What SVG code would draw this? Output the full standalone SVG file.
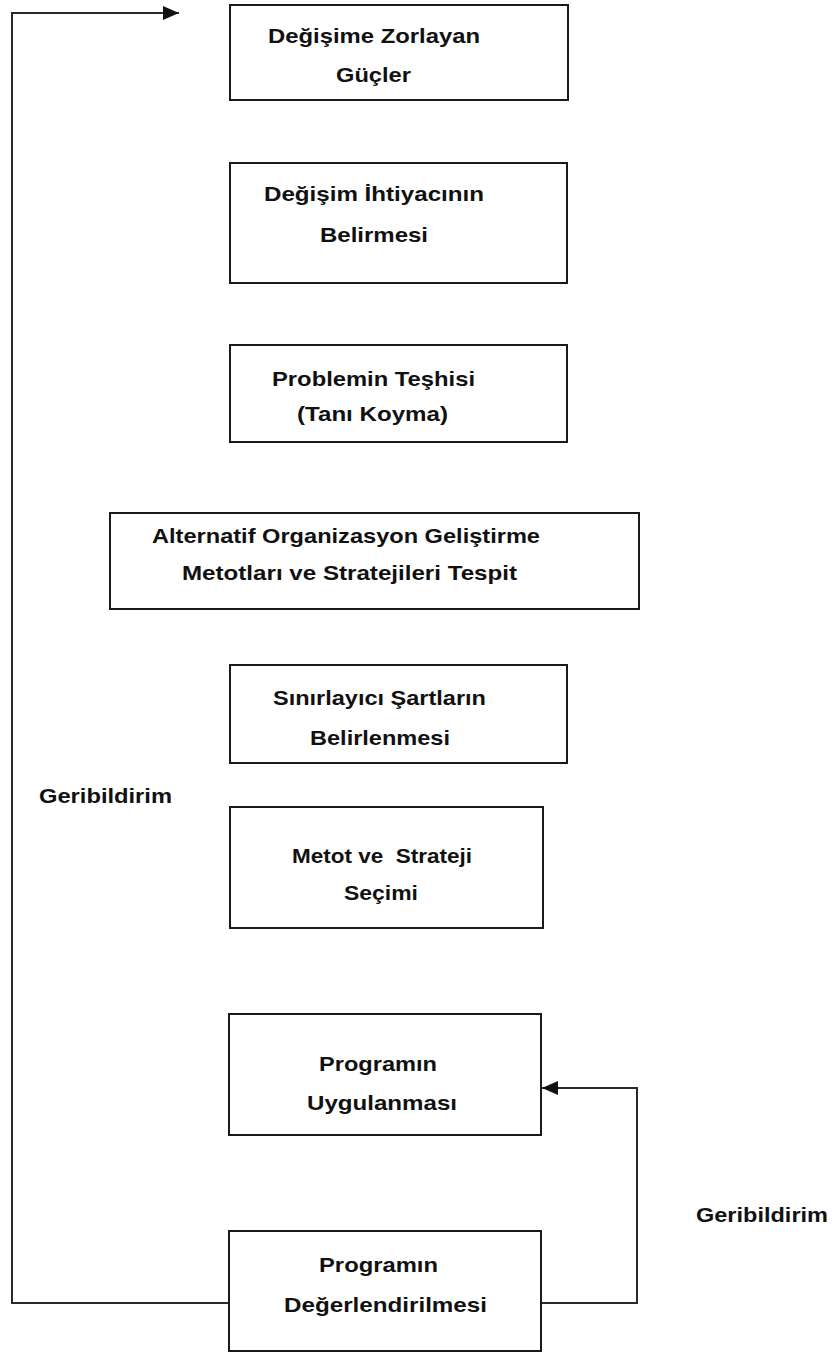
<svg xmlns="http://www.w3.org/2000/svg" width="835" height="1353" viewBox="0 0 835 1353">
  <style>
    .box { fill: #ffffff; stroke: #1a1a1a; stroke-width: 2; }
    .lbl { font-family: "Liberation Sans", Arial, sans-serif; font-size: 21px; font-weight: bold; fill: #111111; white-space: pre; }
    .wire { fill: none; stroke: #2a2a2a; stroke-width: 2; }
  </style>
  <defs>
    <marker id="head" viewBox="0 0 16 14" refX="16" refY="7" markerWidth="16" markerHeight="14" markerUnits="userSpaceOnUse" orient="auto">
      <path d="M0,0 L16,7 L0,14 Z" fill="#111111"/>
    </marker>
  </defs>

  <rect width="835" height="1353" fill="#ffffff"/>

  <!-- connectors -->
  <g id="connectors">
    <path class="wire" d="M229,1303 L12,1303 L12,13 L179,13" marker-end="url(#head)"/>
    <path class="wire" d="M541,1303 L637,1303 L637,1088 L542,1088" marker-end="url(#head)"/>
  </g>

  <g id="n1">
    <rect class="box" x="230" y="5" width="338" height="95"/>
    <text class="lbl" x="268" y="43" textLength="212" lengthAdjust="spacingAndGlyphs">Değişime Zorlayan</text>
    <text class="lbl" x="336" y="82" textLength="75" lengthAdjust="spacingAndGlyphs">Güçler</text>
  </g>

  <g id="n2">
    <rect class="box" x="230" y="163" width="337" height="120"/>
    <text class="lbl" x="264" y="201" textLength="220" lengthAdjust="spacingAndGlyphs">Değişim İhtiyacının</text>
    <text class="lbl" x="320" y="242" textLength="108" lengthAdjust="spacingAndGlyphs">Belirmesi</text>
  </g>

  <g id="n3">
    <rect class="box" x="230" y="345" width="337" height="97"/>
    <text class="lbl" x="272" y="386" textLength="203" lengthAdjust="spacingAndGlyphs">Problemin Teşhisi</text>
    <text class="lbl" x="297" y="421" textLength="151" lengthAdjust="spacingAndGlyphs">(Tanı Koyma)</text>
  </g>

  <g id="n4">
    <rect class="box" x="110" y="513" width="529" height="96"/>
    <text class="lbl" x="152" y="543" textLength="388" lengthAdjust="spacingAndGlyphs">Alternatif Organizasyon Geliştirme</text>
    <text class="lbl" x="182" y="580" textLength="335" lengthAdjust="spacingAndGlyphs">Metotları ve Stratejileri Tespit</text>
  </g>

  <g id="n5">
    <rect class="box" x="230" y="665" width="337" height="98"/>
    <text class="lbl" x="273" y="705" textLength="213" lengthAdjust="spacingAndGlyphs">Sınırlayıcı Şartların</text>
    <text class="lbl" x="310" y="745" textLength="140" lengthAdjust="spacingAndGlyphs">Belirlenmesi</text>
  </g>

  <g id="n6">
    <rect class="box" x="230" y="807" width="313" height="121"/>
    <text class="lbl" x="292" y="863" textLength="180" lengthAdjust="spacingAndGlyphs">Metot ve  Strateji</text>
    <text class="lbl" x="344" y="900" textLength="74" lengthAdjust="spacingAndGlyphs">Seçimi</text>
  </g>

  <g id="n7">
    <rect class="box" x="229" y="1014" width="312" height="121"/>
    <text class="lbl" x="319" y="1071" textLength="118" lengthAdjust="spacingAndGlyphs">Programın</text>
    <text class="lbl" x="307" y="1110" textLength="150" lengthAdjust="spacingAndGlyphs">Uygulanması</text>
  </g>

  <g id="n8">
    <rect class="box" x="229" y="1231" width="312" height="120"/>
    <text class="lbl" x="319" y="1272" textLength="119" lengthAdjust="spacingAndGlyphs">Programın</text>
    <text class="lbl" x="284" y="1312" textLength="203" lengthAdjust="spacingAndGlyphs">Değerlendirilmesi</text>
  </g>

  <g id="feedback-labels">
    <text class="lbl" x="39" y="803" textLength="133" lengthAdjust="spacingAndGlyphs">Geribildirim</text>
    <text class="lbl" x="696" y="1222" textLength="132" lengthAdjust="spacingAndGlyphs">Geribildirim</text>
  </g>
</svg>
